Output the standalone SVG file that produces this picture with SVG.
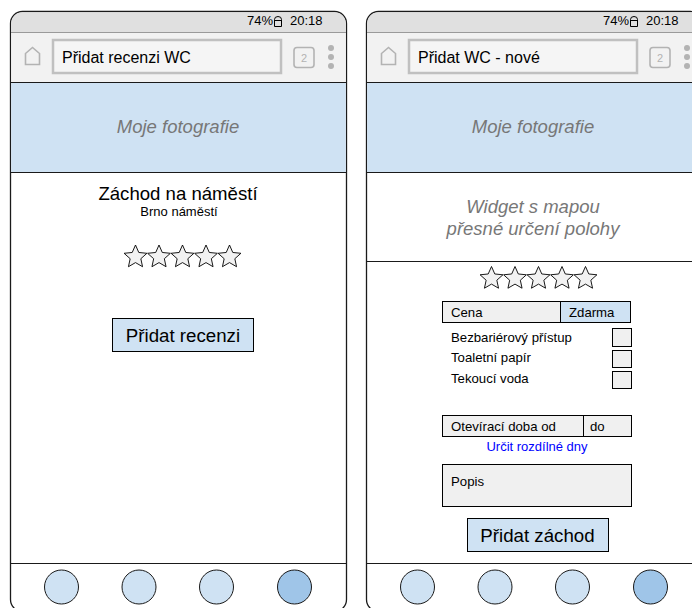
<svg xmlns="http://www.w3.org/2000/svg" xmlns:xlink="http://www.w3.org/1999/xlink" width="692" height="608" viewBox="0 0 692 608">
  <style>
    text { font-family: "Liberation Sans", Arial, sans-serif; fill: #000; }
    .frame { fill: #fff; stroke: #1a1a1a; stroke-width: 1.3; }
    .status { fill: #e0e0e0; }
    .addr { fill: #f2f2f2; }
    .band { fill: #cfe2f3; }
    .sep { stroke: #1a1a1a; stroke-width: 1; fill: none; }
    .sep-light { stroke: #9a9a9a; stroke-width: 1; fill: none; }
    .urlbox { fill: #f5f5f5; stroke: #c0c0c0; stroke-width: 2.5; }
    .icon { fill: none; stroke: #b3b3b3; stroke-width: 1.6; }
    .dot { fill: #b3b3b3; }
    .nav { fill: #cfe2f3; stroke: #1a1a1a; stroke-width: 1; }
    .nav-on { fill: #9fc5e8; stroke: #1a1a1a; stroke-width: 1; }
    .btn { fill: #cfe2f3; stroke: #000; stroke-width: 1; }
    .field { fill: #f0f0f0; stroke: #000; stroke-width: 1; }
    .star { fill: #f2f2f2; stroke: #000; stroke-width: 0.9; stroke-linejoin: miter; }
    .st { font-size: 13px; }
    .url { font-size: 16px; }
    .ph { font-size: 18.5px; font-style: italic; fill: #777; }
    .lbl { font-size: 13.2px; }
    .btxt { font-size: 18.7px; }
  </style>
  <defs>
    <polygon id="star" class="star" points="0,-12 3.29,-4.53 11.41,-3.71 5.33,1.73 7.05,9.71 0,5.6 -7.05,9.71 -5.33,1.73 -11.41,-3.71 -3.29,-4.53"/>
    <!-- shared phone chrome: frame, status bar, browser bar, photo band, bottom nav -->
    <g id="chrome">
      <rect class="frame" x="10.5" y="11.5" width="336" height="600" rx="12"/>
      <path class="status" d="M11.2,32 V23.5 A11.3,11.3 0 0 1 22.5,12.2 H334.5 A11.3,11.3 0 0 1 345.8,23.5 V32 Z"/>
      <rect class="addr" x="11.2" y="32" width="334.6" height="50"/>
      <line class="sep-light" x1="11" y1="32.5" x2="346" y2="32.5"/>
      <line class="sep" x1="11" y1="82.5" x2="346" y2="82.5"/>
      <rect class="band" x="11.2" y="83" width="334.6" height="89"/>
      <text class="st" x="247" y="25">74%</text>
      <path d="M274.5,26.5 V19.5 Q274.5,16.5 278,16.5 Q281.5,16.5 281.5,19.5 V26.5 Z M274.5,20.5 H281.5" fill="none" stroke="#000" stroke-width="1"/>
      <text class="st" x="290" y="25">20:18</text>
      <path class="icon" d="M25.5,64.5 V53.5 L32.5,47.5 L39.5,53.5 V64.5 Z"/>
      <rect class="urlbox" x="53" y="40" width="228" height="33"/>
      <rect class="icon" x="294" y="47.5" width="20" height="20" rx="3" stroke-width="2"/>
      <text x="304" y="62" font-size="11" text-anchor="middle" style="fill:#b3b3b3">2</text>
      <circle class="dot" cx="331" cy="48" r="3"/>
      <circle class="dot" cx="331" cy="57" r="3"/>
      <circle class="dot" cx="331" cy="66" r="3"/>
      <line class="sep" x1="11" y1="563.5" x2="346" y2="563.5"/>
      <ellipse class="nav" cx="61.5" cy="587" rx="17" ry="17"/>
      <ellipse class="nav" cx="139" cy="587" rx="17" ry="17"/>
      <ellipse class="nav" cx="216.5" cy="587" rx="17" ry="17"/>
      <ellipse class="nav-on" cx="294.5" cy="587" rx="17" ry="17"/>
    </g>
  </defs>

  <!-- review screen -->
  <g id="phone-review">
    <use xlink:href="#chrome"/>
    <text class="url" x="62" y="63">Přidat recenzi WC</text>
    <g id="photos-review">
      <text class="ph" x="178" y="133" text-anchor="middle">Moje fotografie</text>
    </g>
    <line class="sep" x1="11" y1="172.5" x2="346" y2="172.5"/>
    <g id="place-title">
      <text x="178" y="200" font-size="18.6" text-anchor="middle">Záchod na náměstí</text>
      <text x="179" y="216" font-size="13" text-anchor="middle">Brno náměstí</text>
    </g>
    <g id="rating-review">
      <use xlink:href="#star" x="135.5" y="257"/>
      <use xlink:href="#star" x="159" y="257"/>
      <use xlink:href="#star" x="182.5" y="257"/>
      <use xlink:href="#star" x="206" y="257"/>
      <use xlink:href="#star" x="229.5" y="257"/>
    </g>
    <g id="btn-review">
      <rect class="btn" x="112.5" y="318.5" width="141" height="33"/>
      <text class="btxt" x="183" y="342" text-anchor="middle">Přidat recenzi</text>
    </g>
  </g>

  <!-- new toilet screen -->
  <g id="phone-new">
    <use xlink:href="#chrome" x="356"/>
    <text class="url" x="418" y="63">Přidat WC - nové</text>
    <g id="photos-new">
      <text class="ph" x="533" y="133" text-anchor="middle">Moje fotografie</text>
    </g>
    <line class="sep" x1="367" y1="172.5" x2="702" y2="172.5"/>
    <g id="map-widget">
      <text class="ph" x="533" y="213" text-anchor="middle">Widget s mapou</text>
      <text class="ph" x="533" y="235" text-anchor="middle">přesné určení polohy</text>
    </g>
    <line class="sep" x1="367" y1="261.5" x2="702" y2="261.5"/>
    <g id="rating-new">
      <use xlink:href="#star" x="491.5" y="278.5"/>
      <use xlink:href="#star" x="515" y="278.5"/>
      <use xlink:href="#star" x="538.5" y="278.5"/>
      <use xlink:href="#star" x="562" y="278.5"/>
      <use xlink:href="#star" x="585.5" y="278.5"/>
    </g>
    <g id="price">
      <rect class="field" x="442.5" y="301.5" width="118" height="21"/>
      <rect class="btn" x="560.5" y="301.5" width="70" height="21"/>
      <text class="lbl" x="451" y="317">Cena</text>
      <text class="lbl" x="569" y="317">Zdarma</text>
    </g>
    <g id="features">
      <text class="lbl" x="451" y="342">Bezbariérový přístup</text>
      <rect class="field" x="612.5" y="328.5" width="19" height="18"/>
      <text class="lbl" x="451" y="362">Toaletní papír</text>
      <rect class="field" x="612.5" y="350.5" width="19" height="17"/>
      <text class="lbl" x="451" y="383">Tekoucí voda</text>
      <rect class="field" x="612.5" y="371.5" width="19" height="17"/>
    </g>
    <g id="hours">
      <rect class="field" x="442.5" y="415.5" width="189" height="21"/>
      <line x1="583.5" y1="415.5" x2="583.5" y2="436.5" stroke="#000" stroke-width="1"/>
      <text class="lbl" x="451" y="431">Otevírací doba od</text>
      <text class="lbl" x="590" y="431">do</text>
      <text x="537" y="451" font-size="13" text-anchor="middle" style="fill:#0000ff">Určit rozdílné dny</text>
    </g>
    <g id="description">
      <rect class="field" x="442.5" y="464.5" width="189" height="42"/>
      <text class="lbl" x="451" y="486">Popis</text>
    </g>
    <g id="btn-new">
      <rect class="btn" x="467.5" y="518.5" width="141" height="33"/>
      <text class="btxt" x="537.5" y="542" text-anchor="middle">Přidat záchod</text>
    </g>
  </g>
</svg>
